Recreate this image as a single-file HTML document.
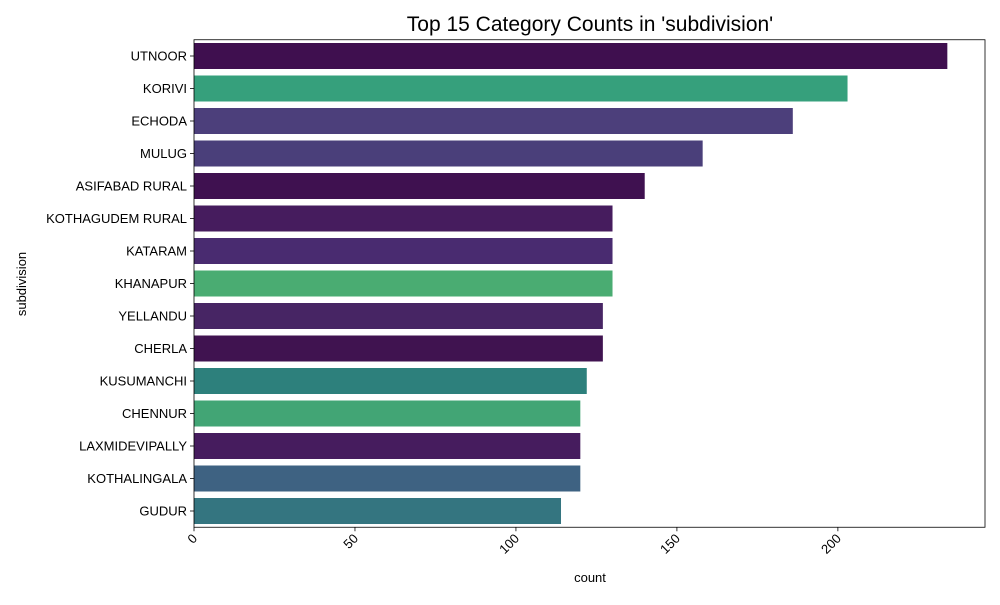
<!DOCTYPE html>
<html><head><meta charset="utf-8"><style>
body{margin:0;background:#fff;font-family:"Liberation Sans","DejaVu Sans",sans-serif}
</style></head><body>
<svg id="chart" width="1000" height="600" xmlns="http://www.w3.org/2000/svg">
<text x="590" y="31" font-size="21" text-anchor="middle" fill="#000">Top 15 Category Counts in 'subdivision'</text>
<g id="bars"></g>
<g id="axes"></g>
<text x="590" y="582" font-size="13" text-anchor="middle">count</text>
<text transform="translate(26,284) rotate(-90)" font-size="13" text-anchor="middle">subdivision</text>
</svg>
<script>
const categories=["UTNOOR","KORIVI","ECHODA","MULUG","ASIFABAD RURAL","KOTHAGUDEM RURAL","KATARAM","KHANAPUR","YELLANDU","CHERLA","KUSUMANCHI","CHENNUR","LAXMIDEVIPALLY","KOTHALINGALA","GUDUR"];
const counts=[234,203,186,158,140,130,130,130,127,127,122,120,120,120,114];
const colors=["#3f0f4f","#36a07c","#4c3f7b","#4a3f7a","#3f1150","#461c5e","#492b70","#4aac72","#472564","#401350","#2d807c","#42a575","#461c5e","#3e6282","#347580"];
const xTicks=[0,50,100,150,200];
const L=194,R=985,T=39.75,B=527.25;
const xMax=Math.max(...counts)*1.05;
const x=v=>L+v/xMax*(R-L);
const band=(B-T)/categories.length;
const y=i=>T+i*band;
const NS="http://www.w3.org/2000/svg";
const bars=document.getElementById('bars'),axes=document.getElementById('axes');
function mk(tag,attrs,parent){const e=document.createElementNS(NS,tag);for(const k in attrs)e.setAttribute(k,attrs[k]);parent.appendChild(e);return e;}
categories.forEach((c,i)=>{
  const r=mk('rect',{x:L,y:y(i)+band*0.1,width:x(counts[i])-L,height:band*0.8,fill:colors[i]},bars);
  
  
  const cy=y(i)+band/2;
  mk('line',{x1:L-4,x2:L,y1:cy,y2:cy,stroke:'#000','stroke-width':0.8},axes);
  const t=mk('text',{x:L-7,y:cy+4.5,'font-size':13,'text-anchor':'end'},axes);
  t.textContent=c;
  
  
});
xTicks.forEach(v=>{
  const px=x(v);
  mk('line',{x1:px,x2:px,y1:B,y2:B+4,stroke:'#000','stroke-width':0.8},axes);
  const t=mk('text',{transform:`translate(${px+4},${B+12}) rotate(-45)`,'font-size':13,'text-anchor':'end'},axes);
  t.textContent=v;
  
  
});
const f=mk('rect',{x:L,y:T,width:R-L,height:B-T,fill:'none',stroke:'#000','stroke-width':0.8},axes);


</script>
</body></html>
